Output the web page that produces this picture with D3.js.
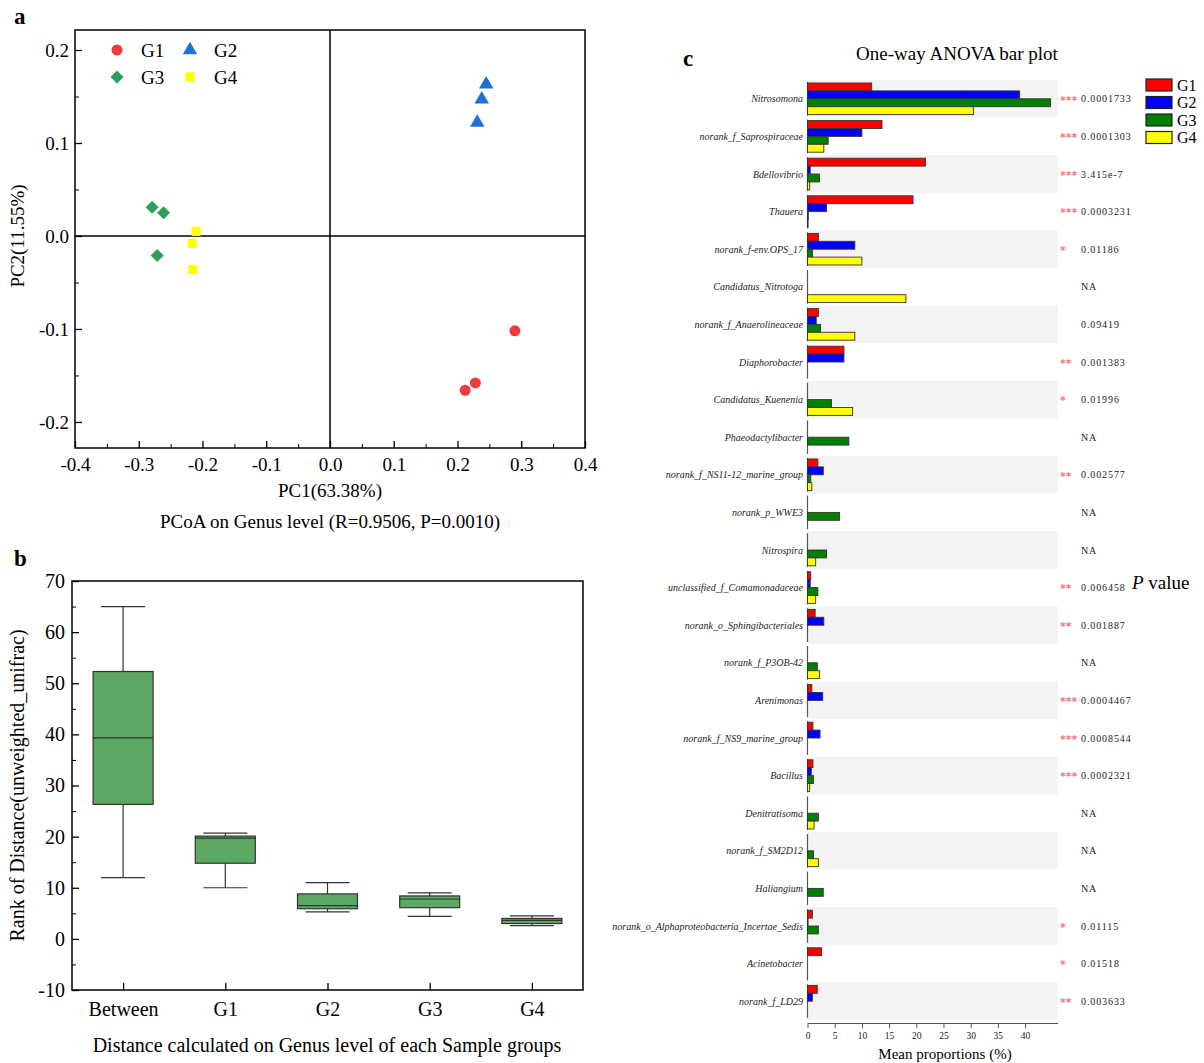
<!DOCTYPE html>
<html>
<head>
<meta charset="utf-8">
<script src="https://cdn.jsdelivr.net/npm/d3@7.9.0/dist/d3.min.js"></script>
<style>
  body { margin: 0; background: #fff; }
  svg { display: block; font-family: "Liberation Serif", "Times New Roman", serif; }
</style>
</head>
<body>
<svg id="fig" width="1204" height="1063"></svg>
<script>
// ---- panel a : PCoA points (PC1, PC2)
const pcoaGroups = ['G1', 'G2', 'G3', 'G4'];
const pcoaColors = ['#ef3b3b', '#1d6fdb', '#2e9e5a', '#ffff00'];
const g1Points = [[0.290, -0.102], [0.228, -0.158], [0.212, -0.166]];
const g2Points = [[0.245, 0.163], [0.238, 0.147], [0.231, 0.122]];
const g3Points = [[-0.279, 0.031], [-0.261, 0.025], [-0.271, -0.021]];
const g4Points = [[-0.210, 0.005], [-0.216, -0.008], [-0.215, -0.036]];
const pcoaTicks = [-0.4, -0.3, -0.2, -0.1, 0.0, 0.1, 0.2, 0.3, 0.4];
const pcoaYTicks = [-0.2, -0.1, 0.0, 0.1, 0.2];

// ---- panel b : box plot of distance ranks
const boxCats = ['Between', 'G1', 'G2', 'G3', 'G4'];
const boxHigh = [65, 20.7, 11, 9, 4.5];
const boxQ3 = [52.3, 20.1, 8.8, 8.4, 4.0];
const boxMedian = [39.3, 19.7, 6.5, 7.8, 3.6];
const boxQ1 = [26.3, 14.8, 5.9, 6.1, 3.0];
const boxLow = [12, 10, 5.3, 4.4, 2.6];

// ---- panel c : one-way ANOVA bar plot
const genera = [
  'Nitrosomona', 'norank_f_Saprospiraceae', 'Bdellovibrio', 'Thauera', 'norank_f-env.OPS_17',
  'Candidatus_Nitrotoga', 'norank_f_Anaerolineaceae', 'Diaphorobacter', 'Candidatus_Kuenenia',
  'Phaeodactylibacter', 'norank_f_NS11-12_marine_group', 'norank_p_WWE3', 'Nitrospira',
  'unclassified_f_Comamonadaceae', 'norank_o_Sphingibacteriales', 'norank_f_P3OB-42', 'Arenimonas',
  'norank_f_NS9_marine_group', 'Bacillus', 'Denitratisoma', 'norank_f_SM2D12', 'Haliangium',
  'norank_o_Alphaproteobacteria_Incertae_Sedis', 'Acinetobacter', 'norank_f_LD29'
];
const g1Means = [11.8, 13.7, 21.7, 19.4, 2.0, 0, 2.0, 6.7, 0, 0, 1.9, 0, 0, 0.6, 1.4, 0, 0.8, 1.0, 1.0, 0, 0, 0, 0.9, 2.6, 1.8];
const g2Means = [39.0, 10.0, 0.5, 3.5, 8.7, 0, 1.6, 6.7, 0, 0, 2.9, 0, 0, 0.5, 3.0, 0, 2.8, 2.3, 0.7, 0, 0, 0, 0.1, 0, 0.9];
const g3Means = [44.7, 3.8, 2.2, 0.15, 0.9, 0, 2.4, 0, 4.4, 7.6, 0.6, 5.9, 3.5, 1.9, 0, 1.8, 0, 0, 1.1, 2.0, 1.1, 2.9, 2.0, 0, 0];
const g4Means = [30.5, 3.0, 0.4, 0.1, 10.0, 18.1, 8.7, 0, 8.3, 0, 0.8, 0, 1.5, 1.5, 0, 2.2, 0, 0, 0.4, 1.2, 2.0, 0, 0, 0, 0];
const pValues = ['0.0001733', '0.0001303', '3.415e-7', '0.0003231', '0.01186', 'NA', '0.09419', '0.001383',
  '0.01996', 'NA', '0.002577', 'NA', 'NA', '0.006458', '0.001887', 'NA', '0.0004467', '0.0008544',
  '0.0002321', 'NA', 'NA', 'NA', '0.01115', '0.01518', '0.003633'];
const sigStars = ['***', '***', '***', '***', '*', '', '', '**', '*', '', '**', '', '', '**', '**', '',
  '***', '***', '***', '', '', '', '*', '*', '**'];
const barGroups = ['G1', 'G2', 'G3', 'G4'];
const barColors = ['#ff0000', '#0000ff', '#008000', '#ffff00'];
const meanTicks = [0, 5, 10, 15, 20, 25, 30, 35, 40];

const svg = d3.select('#fig');
const fmt1 = d => d.toFixed(1);

// ================= panel a =================
const xa = d3.scaleLinear().domain([-0.4, 0.4]).range([75, 585]);
const ya = d3.scaleLinear().domain([-0.228, 0.2215]).range([448, 30]);
const pa = svg.append('g');

pa.append('text').attr('x', 14).attr('y', 24).attr('font-size', 23).attr('font-weight', 'bold').text('a');

// minor ticks
const xMinor = d3.range(-0.35, 0.4, 0.1);
pa.append('g').attr('transform', `translate(0,${ya.range()[0]})`)
  .call(d3.axisBottom(xa).tickValues(xMinor).tickSize(-4).tickFormat(''))
  .call(g => g.select('.domain').remove());
pa.append('g').attr('transform', `translate(${xa.range()[0]},0)`)
  .call(d3.axisLeft(ya).tickValues([-0.15, -0.05, 0.05, 0.15]).tickSize(-4).tickFormat(''))
  .call(g => g.select('.domain').remove());

const axA = pa.append('g').attr('transform', `translate(0,${ya.range()[0]})`)
  .call(d3.axisBottom(xa).tickValues(pcoaTicks).tickSize(-7).tickPadding(10).tickFormat(fmt1));
const ayA = pa.append('g').attr('transform', `translate(${xa.range()[0]},0)`)
  .call(d3.axisLeft(ya).tickValues(pcoaYTicks).tickSize(-7).tickPadding(6).tickFormat(fmt1));
[axA, ayA].forEach(g => {
  g.select('.domain').remove();
  g.selectAll('.tick line').attr('stroke', '#000').attr('stroke-width', 1.3);
  g.selectAll('text').attr('font-family', 'Liberation Serif').attr('font-size', 19).attr('fill', '#000');
});

pa.append('rect')
  .attr('x', xa.range()[0]).attr('y', ya.range()[1])
  .attr('width', xa.range()[1] - xa.range()[0]).attr('height', ya.range()[0] - ya.range()[1])
  .attr('fill', 'none').attr('stroke', '#000').attr('stroke-width', 1.5);
pa.append('line').attr('x1', xa(0)).attr('x2', xa(0)).attr('y1', ya.range()[1]).attr('y2', ya.range()[0])
  .attr('stroke', '#000').attr('stroke-width', 1.5);
pa.append('line').attr('x1', xa.range()[0]).attr('x2', xa.range()[1]).attr('y1', ya(0)).attr('y2', ya(0))
  .attr('stroke', '#000').attr('stroke-width', 1.5);

// diamond = square turned by 45 degrees
const symbols = [d3.symbolCircle, d3.symbolTriangle, d3.symbolSquare, d3.symbolSquare];
const symSizes = [95, 90, 85, 85];
const symRot = [0, 0, 45, 0];
const allPoints = [g1Points, g2Points, g3Points, g4Points];
allPoints.forEach((pts, i) => {
  pa.append('g').selectAll('path')
    .data(pts)
    .join('path')
    .attr('d', d3.symbol().type(symbols[i]).size(symSizes[i]))
    .attr('transform', d => `translate(${xa(d[0])},${ya(d[1])}) rotate(${symRot[i]})`)
    .attr('fill', pcoaColors[i]);
});

// legend a
const legA = pa.append('g');
pcoaGroups.forEach((g, i) => {
  const lx = 117 + (i % 2) * 73;
  const ly = 50 + Math.floor(i / 2) * 27;
  legA.append('path')
    .attr('d', d3.symbol().type(symbols[i]).size(symSizes[i]))
    .attr('transform', `translate(${lx},${ly}) rotate(${symRot[i]})`)
    .attr('fill', pcoaColors[i]);
  legA.append('text').attr('x', lx + 24).attr('y', ly).attr('dy', '0.35em')
    .attr('font-size', 19).text(g);
});

pa.append('text').attr('x', xa(0)).attr('y', 497).attr('text-anchor', 'middle')
  .attr('font-size', 19).text('PC1(63.38%)');
pa.append('text').attr('x', xa(0)).attr('y', 528).attr('text-anchor', 'middle')
  .attr('font-size', 19).text('PCoA on Genus level (R=0.9506, P=0.0010)');
pa.append('text').attr('transform', `translate(24,${ya(0)}) rotate(-90)`).attr('text-anchor', 'middle')
  .attr('font-size', 19).text('PC2(11.55%)');

// ================= panel b =================
const xb = d3.scalePoint().domain(boxCats).range([72, 583]).padding(0.5);
const yb = d3.scaleLinear().domain([-10, 70]).range([990, 581]);
const pb = svg.append('g');

pb.append('text').attr('x', 14).attr('y', 566).attr('font-size', 23).attr('font-weight', 'bold').text('b');

pb.append('g').attr('transform', `translate(${xb.range()[0]},0)`)
  .call(d3.axisLeft(yb).tickValues(d3.range(-5, 70, 10)).tickSize(-4).tickFormat(''))
  .call(g => g.select('.domain').remove());
const ayB = pb.append('g').attr('transform', `translate(${xb.range()[0]},0)`)
  .call(d3.axisLeft(yb).tickValues(d3.range(-10, 71, 10)).tickSize(-7).tickPadding(7));
const axB = pb.append('g').attr('transform', `translate(0,${yb.range()[0]})`)
  .call(d3.axisBottom(xb).tickSize(-7).tickPadding(12));
[axB, ayB].forEach(g => {
  g.select('.domain').remove();
  g.selectAll('.tick line').attr('stroke', '#000').attr('stroke-width', 1.3);
  g.selectAll('text').attr('font-family', 'Liberation Serif').attr('font-size', 20).attr('fill', '#000');
});
ayB.selectAll('text').text(d => String(d));

pb.append('rect')
  .attr('x', xb.range()[0]).attr('y', yb.range()[1])
  .attr('width', xb.range()[1] - xb.range()[0]).attr('height', yb.range()[0] - yb.range()[1])
  .attr('fill', 'none').attr('stroke', '#000').attr('stroke-width', 1.5);

const boxW = 60, capW = 44;
boxCats.forEach((c, i) => {
  const cx = xb(c);
  const g = pb.append('g').attr('stroke', '#333').attr('stroke-width', 1.2);
  g.append('line').attr('x1', cx).attr('x2', cx).attr('y1', yb(boxHigh[i])).attr('y2', yb(boxQ3[i]));
  g.append('line').attr('x1', cx).attr('x2', cx).attr('y1', yb(boxQ1[i])).attr('y2', yb(boxLow[i]));
  g.append('line').attr('x1', cx - capW / 2).attr('x2', cx + capW / 2).attr('y1', yb(boxHigh[i])).attr('y2', yb(boxHigh[i]));
  g.append('line').attr('x1', cx - capW / 2).attr('x2', cx + capW / 2).attr('y1', yb(boxLow[i])).attr('y2', yb(boxLow[i]));
  g.append('rect').attr('x', cx - boxW / 2).attr('y', yb(boxQ3[i]))
    .attr('width', boxW).attr('height', yb(boxQ1[i]) - yb(boxQ3[i]))
    .attr('fill', '#5da862');
  g.append('line').attr('x1', cx - boxW / 2).attr('x2', cx + boxW / 2).attr('y1', yb(boxMedian[i])).attr('y2', yb(boxMedian[i]));
});

pb.append('text').attr('x', 327).attr('y', 1052).attr('text-anchor', 'middle')
  .attr('font-size', 20).text('Distance calculated on Genus level of each Sample groups');
pb.append('text').attr('transform', `translate(24,${yb(30)}) rotate(-90)`).attr('text-anchor', 'middle')
  .attr('font-size', 20).text('Rank of Distance(unweighted_unifrac)');

// ================= panel c =================
const xc = d3.scaleLinear().domain([0, 46]).range([807.5, 1057.7]);
const yc = d3.scaleBand().domain(genera).range([80, 1020]);
const yIn = d3.scaleBand().domain(barGroups).range([3, yc.bandwidth() - 3]);
const meansByGroup = [g1Means, g2Means, g3Means, g4Means];
const pc = svg.append('g');

pc.append('text').attr('x', 683).attr('y', 66).attr('font-size', 23).attr('font-weight', 'bold').text('c');
pc.append('text').attr('x', 957).attr('y', 60).attr('text-anchor', 'middle')
  .attr('font-size', 19).text('One-way ANOVA bar plot');

// alternating grey bands
pc.append('g').selectAll('rect')
  .data(genera.filter((d, i) => i % 2 === 0))
  .join('rect')
  .attr('x', xc(0)).attr('y', d => yc(d))
  .attr('width', xc.range()[1] - xc(0)).attr('height', yc.bandwidth())
  .attr('fill', '#f3f3f3');

// per-row axis segments
pc.append('g').selectAll('line')
  .data(genera)
  .join('line')
  .attr('x1', xc(0)).attr('x2', xc(0))
  .attr('y1', d => yc(d) + 2).attr('y2', d => yc(d) + yc.bandwidth() - 2)
  .attr('stroke', '#555').attr('stroke-width', 1.2);

barGroups.forEach((grp, k) => {
  pc.append('g').selectAll('rect')
    .data(genera.map((gname, i) => ({ gname, v: meansByGroup[k][i] })).filter(d => d.v > 0))
    .join('rect')
    .attr('x', xc(0))
    .attr('y', d => yc(d.gname) + yIn(grp))
    .attr('width', d => xc(d.v) - xc(0))
    .attr('height', yIn.bandwidth())
    .attr('fill', barColors[k])
    .attr('stroke', '#333').attr('stroke-width', 0.9);
});

pc.append('g').selectAll('text')
  .data(genera)
  .join('text')
  .attr('x', 803).attr('y', d => yc(d) + yc.bandwidth() / 2).attr('dy', '0.35em')
  .attr('text-anchor', 'end').attr('font-size', 10).attr('font-style', 'italic').attr('fill', '#222')
  .text(d => d);

pc.append('g').selectAll('text')
  .data(genera)
  .join('text')
  .attr('x', 1060).attr('y', (d, i) => yc(d) + yc.bandwidth() / 2 + 1).attr('dy', '0.35em')
  .attr('font-size', 11).attr('font-weight', 'bold').attr('fill', '#f07878').attr('font-family', 'DejaVu Sans')
  .text((d, i) => sigStars[i]);

pc.append('g').selectAll('text')
  .data(genera)
  .join('text')
  .attr('x', 1081).attr('y', d => yc(d) + yc.bandwidth() / 2).attr('dy', '0.35em')
  .attr('font-size', 10).attr('letter-spacing', 0.9).attr('fill', '#222')
  .text((d, i) => pValues[i]);

const axC = pc.append('g').attr('transform', `translate(0,1023)`)
  .call(d3.axisBottom(xc).tickValues(meanTicks).tickSize(5).tickSizeOuter(0).tickPadding(4));
axC.select('.domain').attr('stroke', '#555');
axC.selectAll('.tick line').attr('stroke', '#555');
axC.selectAll('text').attr('font-family', 'Liberation Serif').attr('font-size', 9.5).attr('fill', '#222');

pc.append('text').attr('x', 945).attr('y', 1059).attr('text-anchor', 'middle')
  .attr('font-size', 15).text('Mean proportions (%)');

// legend c
barGroups.forEach((g, i) => {
  const ly = 79 + i * 17.5;
  pc.append('rect').attr('x', 1146).attr('y', ly).attr('width', 26).attr('height', 12)
    .attr('fill', barColors[i]).attr('stroke', '#222').attr('stroke-width', 1.2);
  pc.append('text').attr('x', 1177).attr('y', ly + 6).attr('dy', '0.35em')
    .attr('font-size', 16).text(g);
});

const pv = pc.append('text').attr('x', 1132).attr('y', 589).attr('font-size', 19);
pv.append('tspan').attr('font-style', 'italic').text('P');
pv.append('tspan').text(' value');
</script>
</body>
</html>
